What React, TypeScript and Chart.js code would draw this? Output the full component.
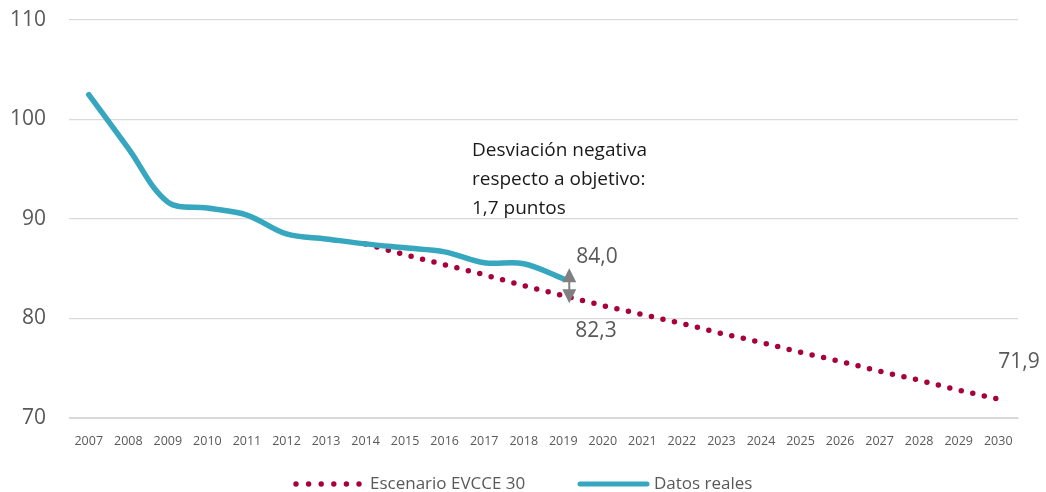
import React, { useEffect, useRef } from "react";
import { Chart, registerables } from "chart.js";

Chart.register(...registerables);

const years = ["2007","2008","2009","2010","2011","2012","2013","2014","2015","2016","2017","2018","2019","2020","2021","2022","2023","2024","2025","2026","2027","2028","2029","2030"];
const datosReales: (number | null)[] = [102.5, 97.1, 91.7, 91.1, 90.4, 88.5, 88.0, 87.5, 87.1, 86.7, 85.6, 85.5, 84.0, null, null, null, null, null, null, null, null, null, null, null];
const escenario: (number | null)[] = [null, null, null, null, null, null, null, 87.5, 86.4, 85.4, 84.4, 83.3, 82.3, 81.3, 80.4, 79.5, 78.5, 77.6, 76.6, 75.7, 74.7, 73.8, 72.8, 71.9];
const yTicks = [70, 80, 90, 100, 110];
const legendLabels = ["Escenario EVCCE 30", "Datos reales"];
const annotationLines = ["Desviación negativa", "respecto a objetivo:", "1,7 puntos"];
const valueLabels = [
  { idx: 12, value: 84.0, text: "84,0" },
  { idx: 12, value: 82.3, text: "82,3" },
  { idx: 23, value: 71.9, text: "71,9" },
];

const FONT = "'Open Sans', 'DejaVu Sans', sans-serif";
const RED = "#A8003B";
const TEAL = "#36A7BF";
const GREY = "#595959";

const overlayPlugin = {
  id: "overlay",
  afterDatasetsDraw(chart: any) {
    const ctx = chart.ctx;
    const x = chart.scales.x;
    const y = chart.scales.y;
    ctx.save();
    // arrows
    const ax = x.getPixelForValue(12) + 6;
    const yA = y.getPixelForValue(84.0);
    const yB = y.getPixelForValue(82.3);
    const mid = (yA + yB) / 2;
    ctx.fillStyle = "#808080";
    ctx.strokeStyle = "#808080";
    ctx.lineWidth = 2;
    ctx.beginPath();
    ctx.moveTo(ax, mid - 6);
    ctx.lineTo(ax, mid + 4);
    ctx.stroke();
    ctx.beginPath();
    ctx.moveTo(ax, mid - 19);
    ctx.lineTo(ax + 7, mid - 5);
    ctx.lineTo(ax - 7, mid - 5);
    ctx.closePath();
    ctx.fill();
    ctx.beginPath();
    ctx.moveTo(ax, mid + 16);
    ctx.lineTo(ax + 7, mid + 2);
    ctx.lineTo(ax - 7, mid + 2);
    ctx.closePath();
    ctx.fill();

    // value labels
    ctx.font = `21px ${FONT}`;
    ctx.fillStyle = GREY;
    ctx.textBaseline = "middle";
    ctx.textAlign = "left";
    const offs = [-22, 35, -37];
    const dx = [13, 12, 0];
    valueLabels.forEach((v, i) => {
      const px = x.getPixelForValue(v.idx);
      const py = y.getPixelForValue(v.value);
      ctx.fillText(v.text, px + dx[i], py + offs[i]);
    });

    // annotation
    ctx.font = `19px ${FONT}`;
    ctx.fillStyle = "#1a1a1a";
    annotationLines.forEach((t, i) => {
      ctx.fillText(t, 472, 151 + i * 29);
    });

    // legend
    const ly = 484;
    ctx.fillStyle = RED;
    for (let i = 0; i < 6; i++) {
      ctx.beginPath();
      ctx.arc(296 + i * 12.6, ly, 2.7, 0, Math.PI * 2);
      ctx.fill();
    }
    ctx.font = `17px ${FONT}`;
    ctx.fillStyle = GREY;
    ctx.fillText(legendLabels[0], 370, ly);
    ctx.strokeStyle = TEAL;
    ctx.lineWidth = 5;
    ctx.lineCap = "round";
    ctx.beginPath();
    ctx.moveTo(580, ly);
    ctx.lineTo(647, ly);
    ctx.stroke();
    ctx.fillStyle = GREY;
    ctx.fillText(legendLabels[1], 654, ly);
    ctx.restore();
  },
};

export default function App() {
  const ref = useRef<HTMLCanvasElement | null>(null);
  useEffect(() => {
    if (!ref.current) return;
    const chart = new Chart(ref.current, {
      type: "line",
      data: {
        labels: years,
        datasets: [
          {
            label: legendLabels[1],
            data: datosReales,
            borderColor: TEAL,
            borderWidth: 5.5,
            borderCapStyle: "round",
            borderJoinStyle: "round",
            pointRadius: 0,
            tension: 0.35,
            order: 0,
          },
          {
            label: legendLabels[0],
            data: escenario,
            borderColor: RED,
            borderWidth: 5.5,
            borderDash: [0, 11.8],
            borderCapStyle: "round",
            pointRadius: 0,
            tension: 0,
            order: 1,
          },
        ],
      },
      options: {
        animation: false,
        responsive: false,
        maintainAspectRatio: false,
        layout: { padding: { top: 20, right: 28, bottom: 40, left: 0 } },
        plugins: { legend: { display: false }, tooltip: { enabled: false } },
        scales: {
          x: {
            offset: true,
            grid: { display: false },
            border: { display: true, color: "#d9d9d9" },
            ticks: { color: GREY, font: { family: FONT, size: 12.5 }, padding: 8, maxRotation: 0, autoSkip: false },
            afterFit: (axis: any) => { axis.height = 34; axis.paddingLeft = 0; axis.paddingRight = 0; },
          },
          y: {
            min: 70,
            max: 110,
            afterBuildTicks: (axis: any) => { axis.ticks = yTicks.map((v) => ({ value: v })); },
            grid: { color: "#d9d9d9", drawTicks: false, lineWidth: 1.3 },
            border: { display: false },
            ticks: { color: GREY, font: { family: FONT, size: 21 }, padding: 23 },
            afterFit: (axis: any) => { axis.width = 69; axis.paddingTop = 0; axis.paddingBottom = 0; },
          },
        },
      },
      plugins: [overlayPlugin],
    } as any);
    return () => chart.destroy();
  }, []);
  return (
    <div style={{ position: "fixed", left: 0, top: 0, width: 1046, height: 492, background: "#fff" }}>
      <canvas ref={ref} width={1046} height={492} style={{ width: 1046, height: 492, display: "block" }} />
    </div>
  );
}
